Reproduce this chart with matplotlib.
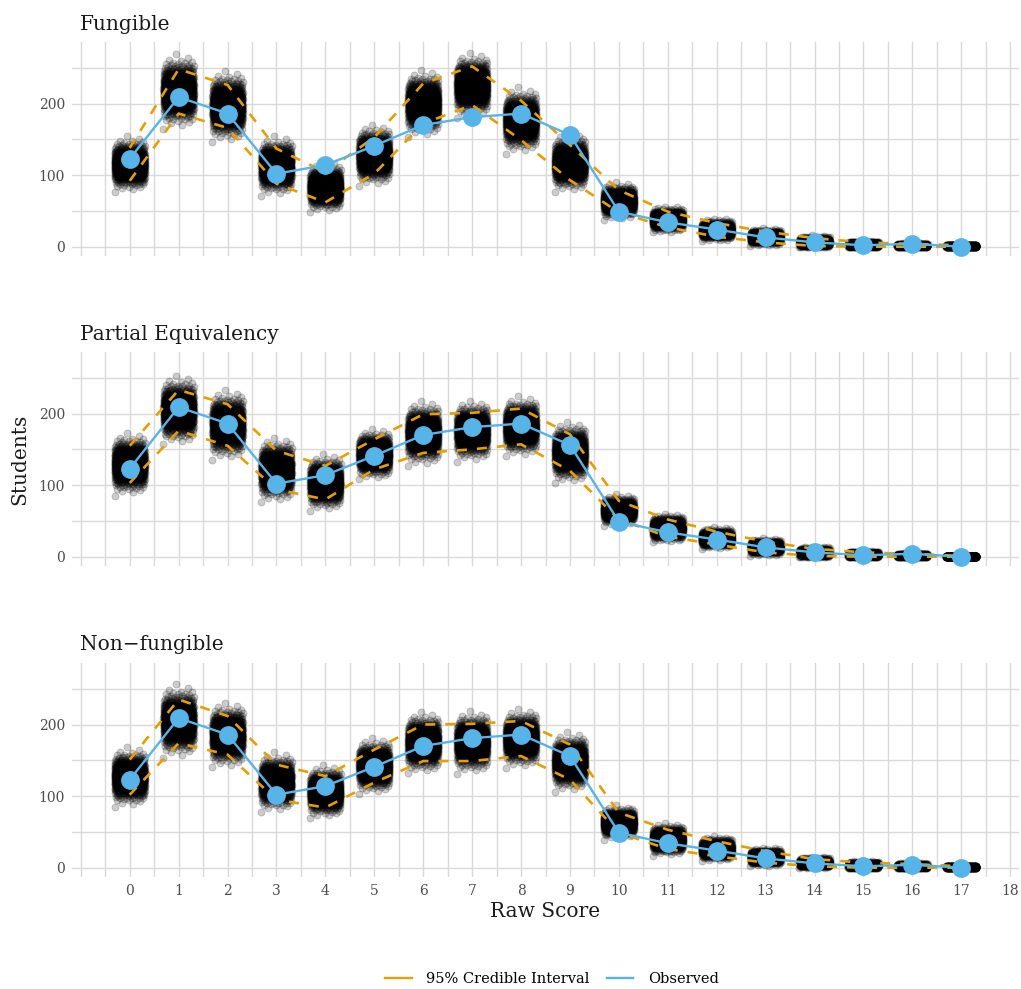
import matplotlib.pyplot as plt
from matplotlib.lines import Line2D
import numpy as np
from statistics import NormalDist

plt.rcParams['font.family'] = ['DejaVu Serif']

scores = list(range(18))
observed = [123, 209, 186, 102, 114, 141, 170, 181, 186, 156, 49, 34, 24, 13, 6, 2, 4, 0]

panels = ["Fungible", "Partial Equivalency", "Non\u2212fungible"]

# 95% credible interval of the posterior predictive counts, per raw score
fung_lo = [92, 186, 166, 88, 62, 102, 172, 198, 149, 93, 48, 27, 14, 6, 1, 0, 0, 0]
fung_hi = [138, 248, 226, 137, 104, 153, 228, 252, 204, 142, 79, 49, 33, 21, 12, 6, 4, 2]
part_lo = [103, 176, 155, 94, 80, 122, 145, 150, 157, 120, 52, 28, 17, 6, 1, 0, 0, 0]
part_hi = [155, 233, 213, 148, 127, 164, 199, 201, 207, 171, 78, 52, 35, 21, 11, 6, 4, 1]
nonf_lo = [102, 174, 158, 95, 84, 119, 149, 149, 156, 123, 49, 26, 16, 7, 2, 0, 0, 0]
nonf_hi = [151, 235, 212, 144, 128, 165, 200, 201, 205, 172, 77, 53, 37, 23, 12, 7, 5, 2]

intervals = [(fung_lo, fung_hi), (part_lo, part_hi), (nonf_lo, nonf_hi)]

n_draws = 1000
ORANGE = "#E69F00"
BLUE = "#56B4E9"
GRID = "#d9d9d9"


def cloud(lo, hi):
	# spread the draws for one score between its interval (normal quantiles)
	nd = NormalDist()
	q = (np.arange(n_draws) + 0.5) / n_draws
	z = np.array([nd.inv_cdf(p) for p in q])
	mid = (lo + hi) / 2.0
	sd = (hi - lo) / 3.92
	y = np.clip(np.round(mid + sd * z), 0, None)
	x = ((np.arange(n_draws) * 0.6180339887) % 1.0 - 0.5) * 0.62
	return x, y


fig = plt.figure(figsize=(10.21, 9.89), dpi=100)
W, H = 1021.0, 989.0
left = 72 / W
width = 947 / W
tops = [42, 352, 663]
ph = 214

axes = []
for i, name in enumerate(panels):
	top = tops[i]
	ax = fig.add_axes([left, 1 - (top + ph) / H, width, ph / H])
	axes.append(ax)
	lo, hi = intervals[i]

	xs, ys = [], []
	for s in scores:
		jx, jy = cloud(lo[s], hi[s])
		xs.append(s + jx)
		ys.append(jy)
	ax.scatter(np.concatenate(xs), np.concatenate(ys), s=26, c="black", alpha=0.2,
			   edgecolors="black", linewidths=0.6, zorder=2)

	ax.plot(scores, lo, color=ORANGE, lw=1.9, ls=(0, (3.8, 3.8)), zorder=3)
	ax.plot(scores, hi, color=ORANGE, lw=1.9, ls=(0, (3.8, 3.8)), zorder=3)
	ax.plot(scores, observed, color=BLUE, lw=1.7, zorder=4)
	ax.plot(scores, observed, "o", color=BLUE, ms=12.5, zorder=5)

	ax.set_xlim(-1.18, 18.18)
	ax.set_ylim(-13, 286)
	ax.set_xticks(range(0, 19))
	ax.set_xticks(np.arange(-1, 18.01, 0.5), minor=True)
	ax.set_yticks([0, 100, 200])
	ax.set_yticks([0, 50, 100, 150, 200, 250], minor=True)
	ax.grid(True, which="both", color=GRID, lw=1.0)
	ax.set_axisbelow(True)
	for sp in ax.spines.values():
		sp.set_visible(False)
	ax.tick_params(which="both", length=0, labelsize=10, labelcolor="#4d4d4d", pad=5)
	if i < 2:
		ax.tick_params(axis="x", labelbottom=False)
	ax.annotate(name, xy=(0, 1), xycoords="axes fraction", xytext=(6, 9),
				textcoords="offset points", fontsize=14.5, color="#1a1a1a",
				ha="left", va="baseline")

axes[2].set_xlabel("Raw Score", fontsize=14.5, color="#1a1a1a", labelpad=3)
fig.text(20 / W, 1 - 459 / H, "Students", rotation=90, fontsize=14.5,
		 color="#1a1a1a", ha="center", va="center")

handles = [Line2D([], [], color=ORANGE, lw=1.7), Line2D([], [], color=BLUE, lw=1.7)]
fig.legend(handles, ["95% Credible Interval", "Observed"], loc="center",
		   bbox_to_anchor=(552 / W, 1 - 979 / H), ncol=2, frameon=False,
		   fontsize=10.5, handlelength=1.8, handletextpad=1.0, columnspacing=1.2)

fig.savefig("out.png", dpi=100)
